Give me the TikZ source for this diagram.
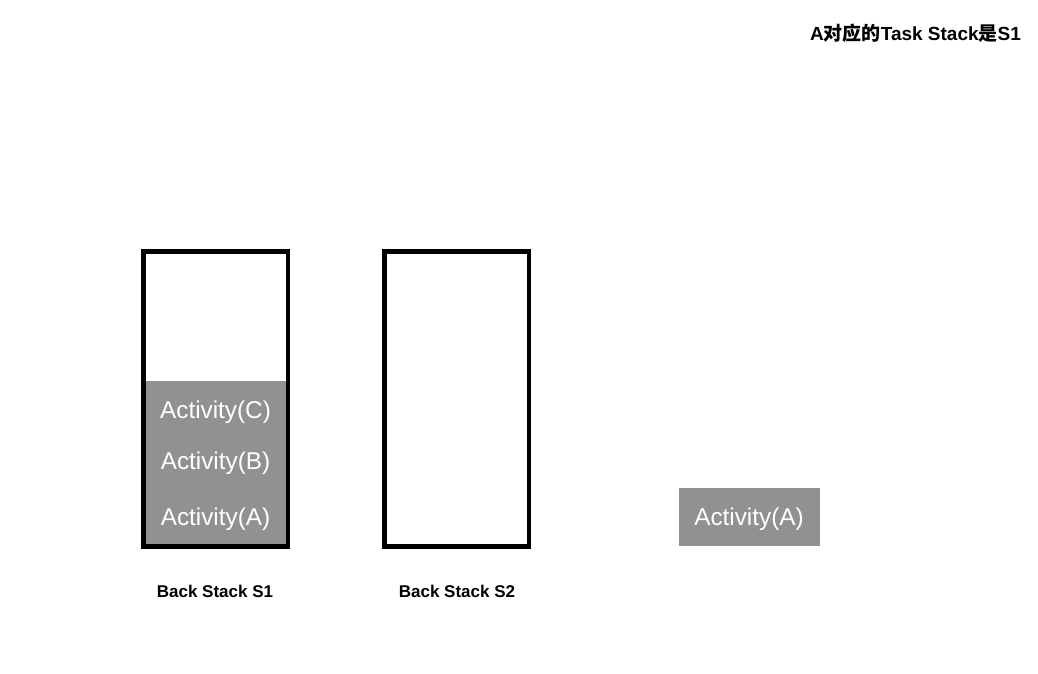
\documentclass[tikz,border=0pt]{standalone}
\usepackage{fontspec}
\setmainfont{Liberation Sans}
\newfontfamily\cjk{Noto Sans CJK SC}
\definecolor{actgray}{HTML}{919191}
\begin{document}
\begin{tikzpicture}[x=1pt,y=-1pt,
  stackbox/.style={draw=black,line width=4.5pt,minimum width=144.5pt,minimum height=295pt,inner sep=0pt},
  actfill/.style={fill=actgray,draw=none,inner sep=0pt},
  acttext/.style={text=white,font=\fontsize{24.3}{28}\selectfont,inner sep=0pt},
  stacklabel/.style={font=\fontsize{17}{20}\selectfont\bfseries,inner sep=0pt}]
\useasboundingbox (0,0) rectangle (1038,674);
\node[font=\fontsize{19}{22}\selectfont\bfseries,inner sep=0pt] (title) at (915.5,33) {A{\cjk\bfseries 对应的}Task Stack{\cjk\bfseries 是}S1};
\node[actfill,minimum width=140pt,minimum height=164pt] (fill1) at (216,463) {};
\node[stackbox] (s1) at (215.75,399) {};
\node[stackbox] (s2) at (456.5,399) {};
\node[acttext] (c) at (215.5,412) {Activity(C)};
\node[acttext] (b) at (215.5,463) {Activity(B)};
\node[acttext] (a) at (215.5,519) {Activity(A)};
\node[actfill,minimum width=141pt,minimum height=58pt] (abox) at (749.5,517) {};
\node[acttext] (a2) at (749,519) {Activity(A)};
\node[stacklabel] (l1) at (215,591) {Back Stack S1};
\node[stacklabel] (l2) at (457,591) {Back Stack S2};
\end{tikzpicture}
\end{document}
